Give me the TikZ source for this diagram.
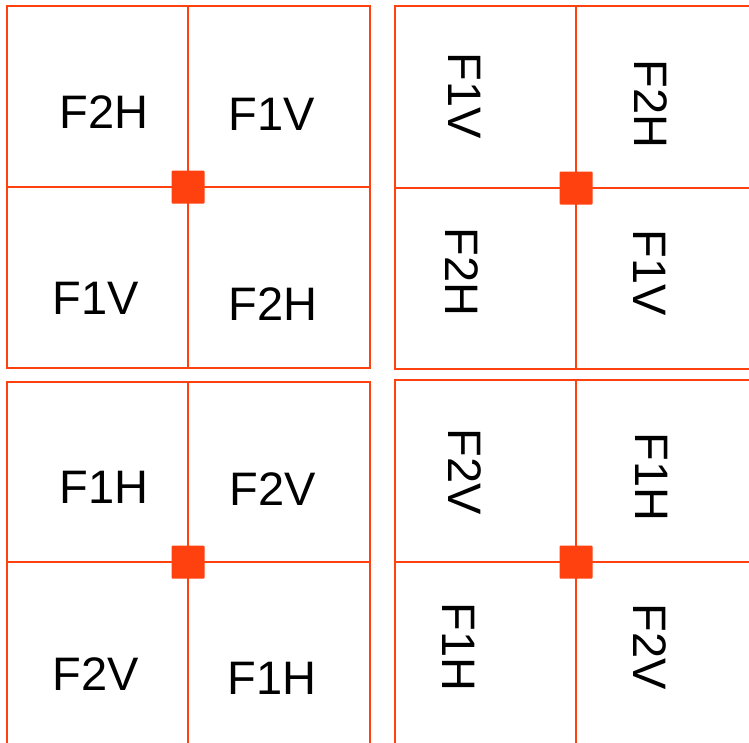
\documentclass[tikz,border=0pt]{standalone}
\usepackage{fontspec}
\setmainfont{Liberation Sans}
\definecolor{grid}{HTML}{FF400F}
\begin{document}
\begin{tikzpicture}[x=1pt,y=-1pt,
  cell/.style={draw=grid,line width=2.4pt},
  hub/.style={fill=grid,minimum size=33pt,inner sep=0pt,rounded corners=1pt},
  lbl/.style={font=\fontsize{47}{47}\selectfont,inner sep=0pt,anchor=center},
  vlbl/.style={lbl,rotate=-90}]
\useasboundingbox (0,0) rectangle (749,742);
\clip (0,0) rectangle (749,742);

% top-left block
\draw[cell] (7,6) rectangle (370,368);
\draw[cell] (188,6) -- (188,368);
\draw[cell] (7,187) -- (370,187);
\node[hub] (hubA) at (188,187) {};
\node[lbl] (a1) at (104,112) {F2H};
\node[lbl] (a2) at (272,114) {F1V};
\node[lbl] (a3) at (96,298) {F1V};
\node[lbl] (a4) at (273,304) {F2H};

% top-right block
\draw[cell] (395,6) rectangle (790,369);
\draw[cell] (576,6) -- (576,369);
\draw[cell] (395,188) -- (790,188);
\node[hub] (hubB) at (576,188) {};
\node[vlbl] (b1) at (465,96) {F1V};
\node[vlbl] (b2) at (651,104) {F2H};
\node[vlbl] (b3) at (462,272) {F2H};
\node[vlbl] (b4) at (650,273) {F1V};

% bottom-left block
\draw[cell] (7,382) rectangle (370,790);
\draw[cell] (188,382) -- (188,790);
\draw[cell] (7,562) -- (370,562);
\node[hub] (hubC) at (188,562) {};
\node[lbl] (c1) at (104,487) {F1H};
\node[lbl] (c2) at (273,489) {F2V};
\node[lbl] (c3) at (96,674) {F2V};
\node[lbl] (c4) at (272,678) {F1H};

% bottom-right block
\draw[cell] (395,380) rectangle (790,790);
\draw[cell] (576,380) -- (576,790);
\draw[cell] (395,562) -- (790,562);
\node[hub] (hubD) at (576,562) {};
\node[vlbl] (d1) at (465,472) {F2V};
\node[vlbl] (d2) at (652,477) {F1H};
\node[vlbl] (d3) at (459,647) {F1H};
\node[vlbl] (d4) at (650,647) {F2V};
\end{tikzpicture}
\end{document}
